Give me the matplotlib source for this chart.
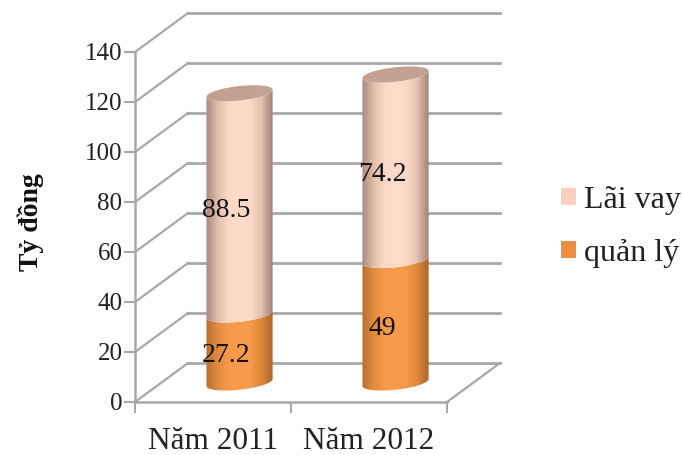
import numpy as np
import matplotlib
matplotlib.use('Agg')
import matplotlib.pyplot as plt
from matplotlib.colors import LinearSegmentedColormap
from matplotlib.patches import Patch, PathPatch
from matplotlib.path import Path

years = ['Năm 2011', 'Năm 2012']
quan_ly = [27.2, 49]
lai_vay = [88.5, 74.2]
y_ticks = [0, 20, 40, 60, 80, 100, 120, 140]

plt.rcParams['font.family'] = ['Liberation Serif', 'DejaVu Serif']

# depth of the fake 3d box, in data units
depth_x = 0.34
depth_y = 15.6
grid_col = '#a8a8a8'

pink = LinearSegmentedColormap.from_list('pink', ['#a98a7e', '#e0bcaa', '#fcd9c6', '#ffdcc9', '#fcd9c6', '#e3bfad', '#a08276'])
orange = LinearSegmentedColormap.from_list('orange', ['#b5702f', '#e28a3f', '#f59a4a', '#f89c4c', '#f59a4a', '#dd863b', '#a8682c'])

fig = plt.figure(figsize=(6.83, 4.55), dpi=100)
ax = fig.add_axes([135 / 683, 1 - 402 / 455, 312 / 683, 350 / 455])
ax.patch.set_alpha(0)


def grid_lines():
    for v in y_ticks:
        ax.plot([0, depth_x], [v, v + depth_y], color=grid_col, lw=1.6, clip_on=False, zorder=1)
        ax.plot([depth_x, 2 + depth_x], [v + depth_y, v + depth_y], color=grid_col, lw=2, clip_on=False, zorder=1)
    ax.plot([2, 2 + depth_x], [0, depth_y], color=grid_col, lw=1.6, clip_on=False, zorder=1)


def front_arc(cx, v, reverse=False):
    t = np.linspace(np.pi, 2 * np.pi, 40)
    if reverse:
        t = t[::-1]
    return np.column_stack([cx + 0.212 * np.cos(t), v + 2.9 * np.sin(t) + 1.4 * np.cos(t)])


def cylinder(cx, v0, v1, cmap, z):
    pts = np.vstack([front_arc(cx, v0), front_arc(cx, v1, reverse=True)])
    im = ax.imshow(np.linspace(0, 1, 128).reshape(1, -1), cmap=cmap, aspect='auto', zorder=z,
                   extent=[cx - 0.212, cx + 0.212, v0 - 6, v1 + 6])
    patch = PathPatch(Path(np.vstack([pts, pts[0]])), transform=ax.transData, fc='none', ec='none')
    ax.add_patch(patch)
    im.set_clip_path(patch)
    im.set_clip_on(True)


def cap(cx, v):
    t = np.linspace(0, 2 * np.pi, 80)
    ax.fill(cx + 0.212 * np.cos(t), v + 2.9 * np.sin(t) + 1.4 * np.cos(t), color='#c2a193', lw=0, zorder=5, clip_on=False)


grid_lines()

for i in range(len(years)):
    cx = i + 0.5 + depth_x / 2
    base = depth_y / 2
    cylinder(cx, base, base + quan_ly[i], orange, 3)
    cylinder(cx, base + quan_ly[i], base + quan_ly[i] + lai_vay[i], pink, 3)
    cap(cx, base + quan_ly[i] + lai_vay[i])
    ax.annotate(str(quan_ly[i]), (cx, base + quan_ly[i] / 2), xytext=(-13, -7), textcoords='offset pixels',
                ha='center', va='center', fontsize=20, color='#111111', zorder=6)
    ax.annotate(str(lai_vay[i]), (cx, base + quan_ly[i] + lai_vay[i] / 2), xytext=(-13, -7), textcoords='offset pixels',
                ha='center', va='center', fontsize=20, color='#111111', zorder=6)

ax.set_xlim(0, 2)
ax.set_ylim(0, 140)
ax.set_yticks(y_ticks)
ax.set_xticks([0, 1, 2])
ax.set_xticklabels([])
ax.set_xticks([0.5, 1.5], labels=years, minor=True)
ax.tick_params(axis='x', which='minor', length=0, labelsize=22.5, pad=18, labelcolor='#222222')
ax.tick_params(axis='x', which='major', length=8, width=1.5, color=grid_col)
ax.tick_params(axis='y', length=8, width=1.5, color=grid_col, labelsize=18, pad=1, labelcolor='#222222')
for s in ['top', 'right']:
    ax.spines[s].set_visible(False)
for s in ['left', 'bottom']:
    ax.spines[s].set_color(grid_col)
    ax.spines[s].set_linewidth(1.8)

fig.text(31 / 683, 1 - 222 / 455, 'Tỷ đồng', rotation=90, ha='center', va='center',
         fontsize=20, fontweight='bold', color='#111111')

handles = [Patch(fc='#fbd0be', ec='none'), Patch(fc='#ee8e40', ec='none')]
fig.legend(handles, ['Lãi vay', 'quản lý'], loc='center left', bbox_to_anchor=(561 / 683, 1 - 227 / 455),
           frameon=False, fontsize=23, handlelength=0.47, handleheight=0.47, handletextpad=0.25,
           labelspacing=0.75, borderpad=0, borderaxespad=0, labelcolor='#222222')

fig.savefig('out.png', dpi=100)
